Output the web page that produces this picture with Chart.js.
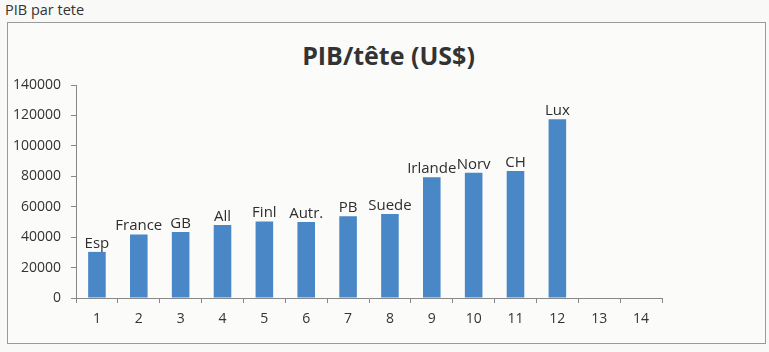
<!DOCTYPE html>
<html>
<head>
<meta charset="utf-8">
<script src="https://cdn.jsdelivr.net/npm/chart.js@4/dist/chart.umd.min.js"></script>
<style>
  body { margin: 0; background: #f9f9f7; font-family: "Open Sans", sans-serif; }
  #wrap { position: relative; width: 769px; height: 352px; }
  #head { position: absolute; left: 5px; top: 0px; font-size: 14.5px; color: #333; }
  #box { position: absolute; left: 7px; top: 22px; width: 757px; height: 320px; border: 1px solid #9a9a9a; background: #fbfbfa; }
  #title { position: absolute; left: 0; width: 769px; top: 38px; text-align: center; font-size: 25px; font-weight: bold; color: #333; padding-left: 4px; }
  canvas { position: absolute; left: 0; top: 0; }
</style>
</head>
<body>
<div id="wrap">
  <div id="head">PIB par tete</div>
  <div id="box"></div>
  <div id="title">PIB/tête (US$)</div>
  <canvas id="myChart" width="769" height="352"></canvas>
</div>
<script>
var categories = ['1','2','3','4','5','6','7','8','9','10','11','12','13','14'];
var countries = ['Esp','France','GB','All','Finl','Autr.','PB','Suede','Irlande','Norv','CH','Lux'];
var pibParTete = [30300, 41800, 43300, 48000, 50200, 50000, 53800, 55200, 79300, 82300, 83500, 117500];

var barNames = {
  id: 'barNames',
  afterDatasetsDraw(chart) {
    var ctx = chart.ctx;
    var meta = chart.getDatasetMeta(0);
    ctx.save();
    ctx.font = '15px "Open Sans"';
    ctx.fillStyle = '#2e2e2e';
    ctx.textAlign = 'center';
    ctx.textBaseline = 'bottom';
    meta.data.forEach((bar, i) => {
      ctx.fillText(countries[i], bar.x, bar.y - 1);
    });
    ctx.restore();
  }
};

var chart = new Chart(document.getElementById('myChart'), {
  type: 'bar',
  data: {
    labels: categories,
    datasets: [{
      label: 'PIB/tête',
      data: pibParTete,
      backgroundColor: '#4a87c6',
      barPercentage: 0.42,
      categoryPercentage: 1
    }]
  },
  options: {
    responsive: false,
    animation: false,
    layout: { padding: { left: 0, right: 107, top: 85, bottom: 14 } },
    plugins: {
      legend: { display: false },
      tooltip: { enabled: false },
      title: { display: false }
    },
    scales: {
      x: {
        grid: { drawOnChartArea: false, color: '#888', tickLength: 5 },
        border: { color: '#888' },
        ticks: { color: '#333', font: { family: 'Open Sans', size: 14 }, padding: 8 },
        afterFit: s => { s.height = 40; }
      },
      y: {
        min: 0, max: 140000,
        grid: { drawOnChartArea: false, color: '#888', tickLength: 5 },
        border: { color: '#888' },
        ticks: {
          stepSize: 20000, color: '#333', font: { family: 'Open Sans', size: 14 }, padding: 10,
          callback: v => String(v)
        },
        afterFit: s => { s.width = 76; }
      }
    }
  },
  plugins: [barNames]
});
</script>
</body>
</html>
